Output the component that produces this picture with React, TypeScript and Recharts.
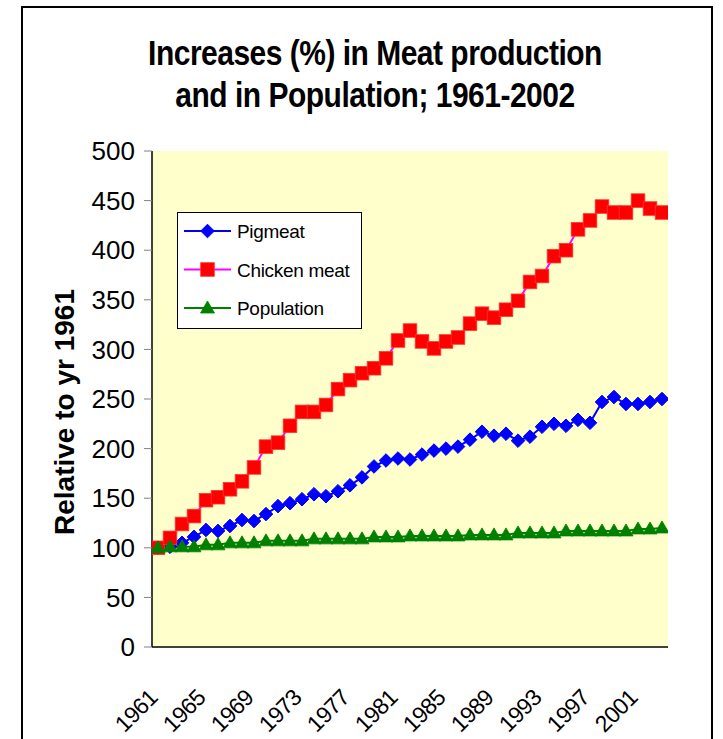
import React from 'react';
import { LineChart, Line, XAxis, YAxis, Legend, CartesianGrid } from 'recharts';

// Index values (1961 = 100)
const years = [
  1961, 1962, 1963, 1964, 1965, 1966, 1967, 1968, 1969, 1970,
  1971, 1972, 1973, 1974, 1975, 1976, 1977, 1978, 1979, 1980,
  1981, 1982, 1983, 1984, 1985, 1986, 1987, 1988, 1989, 1990,
  1991, 1992, 1993, 1994, 1995, 1996, 1997, 1998, 1999, 2000,
  2001, 2002, 2003,
];

const pigmeat = [
  100, 101, 105, 111, 118, 117, 122, 128, 127, 134,
  142, 145, 149, 154, 152, 157, 163, 171, 182, 188,
  190, 189, 194, 198, 200, 202, 209, 217, 213, 215,
  208, 212, 222, 225, 223, 229, 226, 247, 252, 245,
  245, 247, 250,
];

const chickenMeat = [
  100, 110, 124, 132, 148, 151, 159, 167, 181, 202,
  206, 223, 237, 237, 244, 260, 269, 276, 281, 291,
  309, 319, 308, 301, 308, 312, 326, 336, 332, 340,
  349, 368, 374, 394, 400, 421, 430, 444, 438, 438,
  450, 442, 438,
];

const population = [
  100, 101, 101, 101, 103, 103, 105, 105, 105, 107,
  107, 107, 107, 109, 109, 109, 109, 109, 111, 111,
  111, 112, 112, 112, 112, 112, 113, 113, 113, 113,
  115, 115, 115, 115, 117, 117, 117, 117, 117, 117,
  119, 119, 120,
];

const yTicks = [0, 50, 100, 150, 200, 250, 300, 350, 400, 450, 500];
const yearLabels = [1961, 1965, 1969, 1973, 1977, 1981, 1985, 1989, 1993, 1997, 2001];
const yearBounds = [...years.map((y) => y - 0.5), years[years.length - 1] + 0.5];

const titleLines = ['Increases (%) in Meat production', 'and in Population; 1961-2002'];
const yAxisTitle = 'Relative to yr 1961';

const data = years.map((year, i) => ({
  year,
  pigmeat: pigmeat[i],
  chicken: chickenMeat[i],
  population: population[i],
}));

const FONT = "'Liberation Sans', Arial, sans-serif";

type Shape = 'diamond' | 'square' | 'triangle';

const series: { key: string; name: string; line: string; marker: string; shape: Shape }[] = [
  { key: 'pigmeat', name: 'Pigmeat', line: '#0000FF', marker: '#0000FF', shape: 'diamond' },
  { key: 'chicken', name: 'Chicken meat', line: '#FF00FF', marker: '#FF0000', shape: 'square' },
  { key: 'population', name: 'Population', line: '#008000', marker: '#008000', shape: 'triangle' },
];

function marker(shape: Shape, cx: number, cy: number, color: string, key?: string | number) {
  if (shape === 'diamond') {
    const r = 6.8;
    return (
      <polygon
        key={key}
        points={`${cx},${cy - r} ${cx + r},${cy} ${cx},${cy + r} ${cx - r},${cy}`}
        fill={color}
        stroke={color}
        strokeWidth={1}
      />
    );
  }
  if (shape === 'square') {
    const h = 6.8;
    return <rect key={key} x={cx - h} y={cy - h} width={h * 2} height={h * 2} fill={color} stroke="#FF3333" strokeWidth={0.8} />;
  }
  return (
    <polygon
      key={key}
      points={`${cx},${cy - 7} ${cx + 7},${cy + 5} ${cx - 7},${cy + 5}`}
      fill={color}
      stroke={color}
      strokeWidth={0.8}
    />
  );
}

const YearTick = (props: any) => {
  const { x, y, payload } = props;
  const ax = x + 1;
  const ay = y + 44;
  return (
    <text
      x={ax}
      y={ay}
      transform={`rotate(-45, ${ax}, ${ay})`}
      textAnchor="end"
      fontSize={23}
      fontFamily={FONT}
      fill="#000"
      letterSpacing={-0.6}
    >
      {payload.value}
    </text>
  );
};

const YTitle = (props: any) => {
  const { viewBox } = props;
  const tx = viewBox.x - 18;
  const ty = viewBox.y + viewBox.height / 2 + 13;
  return (
    <text
      x={tx}
      y={ty}
      transform={`rotate(-90, ${tx}, ${ty})`}
      textAnchor="middle"
      fontSize={28}
      fontWeight="bold"
      fontFamily={FONT}
      fill="#000"
    >
      {yAxisTitle}
    </text>
  );
};

const LegendBox = () => (
  <svg width={185} height={117} style={{ display: 'block' }}>
    <rect x={0.5} y={0.5} width={184} height={116} fill="#fff" stroke="#000" strokeWidth={1} />
    {series.map((s, i) => {
      const cy = 19 + i * 38.5;
      return (
        <g key={s.key}>
          <line x1={7} x2={54} y1={cy} y2={cy} stroke={s.line} strokeWidth={2} />
          {marker(s.shape, 30.5, cy, s.marker)}
          <text x={60} y={cy + 7} fontSize={19} fontFamily={FONT} fill="#000" letterSpacing={-0.3}>
            {s.name}
          </text>
        </g>
      );
    })}
  </svg>
);

export default function App() {
  return (
    <div
      style={{
        position: 'absolute',
        left: 0,
        top: 0,
        width: 723,
        height: 739,
        background: '#fff',
        overflow: 'hidden',
      }}
    >
      <div
        style={{
          position: 'absolute',
          left: 21,
          top: 6,
          width: 692,
          height: 780,
          border: '2px solid #000',
          boxSizing: 'border-box',
        }}
      />
      <svg width={723} height={130} style={{ position: 'absolute', left: 0, top: 0 }}>
        {titleLines.map((t, i) => (
          <text
            key={i}
            x={375}
            y={0}
            transform={`translate(0, ${65 + i * 42}) scale(1, 1.15)`}
            textAnchor="middle"
            fontSize={30}
            fontWeight="bold"
            fontFamily={FONT}
            fill="#000"
            letterSpacing={-0.5}
          >
            {t}
          </text>
        ))}
      </svg>
      <div style={{ position: 'absolute', left: 0, top: 0 }}>
        <LineChart
          width={723}
          height={739}
          data={data}
          margin={{ top: 151, right: 55, left: 92, bottom: 0 }}
        >
          <CartesianGrid fill="#FFFFCC" horizontal={false} vertical={false} stroke="none" xAxisId="years" />
          <XAxis
            xAxisId="bounds"
            type="number"
            dataKey="year"
            domain={[yearBounds[0], yearBounds[yearBounds.length - 1]]}
            ticks={yearBounds}
            interval={0}
            allowDataOverflow
            tick={false}
            tickSize={7}
            tickLine={{ stroke: '#000', strokeWidth: 1 }}
            axisLine={{ stroke: '#000', strokeWidth: 1.5 }}
            height={8}
          />
          <XAxis
            xAxisId="years"
            type="number"
            dataKey="year"
            domain={[yearBounds[0], yearBounds[yearBounds.length - 1]]}
            ticks={yearLabels}
            interval={0}
            allowDataOverflow
            tick={<YearTick />}
            tickLine={false}
            axisLine={false}
            tickSize={0}
            tickMargin={0}
            height={84}
          />
          <YAxis
            type="number"
            domain={[0, 500]}
            ticks={yTicks}
            interval={0}
            width={60}
            tickSize={8}
            tickMargin={9}
            tick={{ fontSize: 26, fill: '#000', fontFamily: FONT }}
            tickLine={{ stroke: '#808080', strokeWidth: 1 }}
            axisLine={{ stroke: '#000', strokeWidth: 1.5 }}
            label={{ content: (p: any) => <YTitle {...p} /> }}
          />
          <Legend
            layout="horizontal"
            verticalAlign="middle"
            align="center"
            content={() => <LegendBox />}
            wrapperStyle={{ position: 'absolute', left: 177, top: 212, width: 185, height: 117 }}
          />
          {series.map((s) => (
            <Line
              key={s.key}
              xAxisId="years"
              type="linear"
              dataKey={s.key}
              name={s.name}
              stroke={s.line}
              strokeWidth={2}
              isAnimationActive={false}
              dot={(p: any) => marker(s.shape, p.cx, p.cy, s.marker, `${s.key}-${p.index}`)}
              activeDot={false}
            />
          ))}
        </LineChart>
      </div>
    </div>
  );
}
